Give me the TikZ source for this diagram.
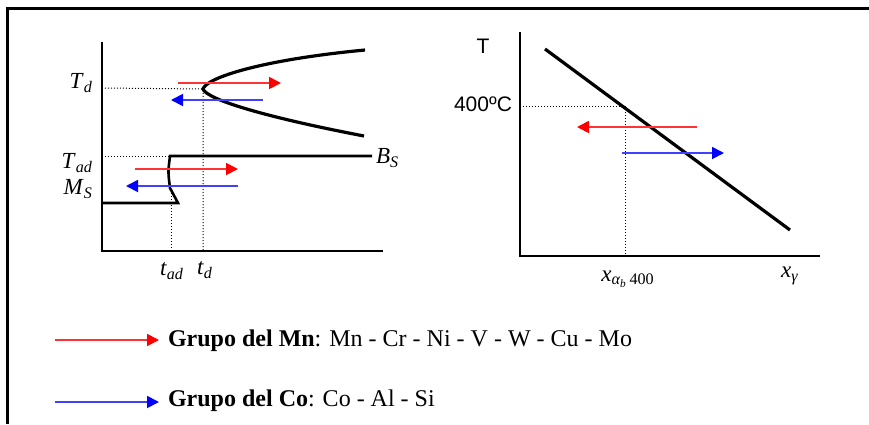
\documentclass[tikz,border=0pt]{standalone}
\usepackage{fontspec}
\setmainfont{Liberation Serif}
\newfontfamily\arialfont{Liberation Sans}
\usetikzlibrary{arrows.meta}
\newcommand\lbl[2]{\textit{#1}\textsubscript{\textit{#2}}}

\begin{document}
\begin{tikzpicture}[x=0.5pt,y=-0.5pt,>={Triangle[length=6pt,width=6pt]},
  axis/.style={line width=1.4pt},
  curve/.style={line width=1.6pt},
  guide/.style={densely dotted,line width=0.5pt},
  redarr/.style={->,draw=red!80!white,line width=0.9pt,arrows={-Triangle[length=6pt,width=6pt,fill=red,color=red]}},
  bluearr/.style={->,draw=blue!75!white,line width=0.9pt,arrows={-Triangle[length=6pt,width=6pt,fill=blue,color=blue]}},
  every node/.style={font=\fontsize{11.5}{13}\selectfont}]
  \useasboundingbox (0,0) rectangle (869,424);
  % frame
  \draw[line width=1.5pt] (7,424) -- (7,8) -- (869,8);
  % left diagram: axes
  \coordinate (o1) at (102,251);
  \draw[axis] (102,42) -- (o1) -- (383,251);
  % C-curve
  \coordinate (nose) at (203,89);
  \draw[curve] (365,50) .. controls (260,60) and (206,78) .. (nose)
    .. controls (207,100) and (270,118) .. (364,136);
  \draw[guide] (102,88) -- (nose) -- (203,251);
  \node[left] (Td) at (100,83) {\lbl{T}{d}};
  \node (td) at (205,270) {\lbl{t}{d}};
  \draw[redarr] (178,83) -- (281,83);
  \draw[bluearr] (263,100) -- (171,100);
  % bainite start and martensite start
  \draw[line width=1.3pt] (372,156) -- (170,156) .. controls (168,172) .. (170,188)
    -- (178,203) -- (102,203);
  \draw[guide] (102,156) -- (170,156);
  \draw[guide] (171,190) -- (171,251);
  \node[left] (Tad) at (100,163) {\lbl{T}{ad}};
  \node[left] (MS) at (100,189) {\lbl{M}{S}};
  \node[right] (BS) at (369,158) {\lbl{B}{S}};
  \node (tad) at (172,271) {\lbl{t}{ad}};
  \draw[redarr] (135,169) -- (238,169);
  \draw[bluearr] (238,186) -- (126,186);
  % right diagram: axes
  \coordinate (o2) at (520,256);
  \draw[axis] (520,32) -- (o2) -- (820,256);
  \draw[curve] (545,49) -- (790,230);
  \draw[guide] (520,106) -- (625,106) -- (625,256);
  \node[font=\arialfont\fontsize{10.5}{12}\selectfont] (T) at (483,46) {T};
  \node[left,font=\arialfont\fontsize{10.5}{12}\selectfont] (T400) at (519,104) {400ºC};
  \node (xab) at (628,279) {\textit{x}\textsubscript{\textit{α}\textsubscript{\textit{b}}\,400}};
  \node (xg) at (790,276) {\lbl{x}{γ}};
  \draw[redarr] (697,127) -- (577,127);
  \draw[bluearr] (622,153) -- (724,153);
  % legend
  \draw[redarr] (55,340) -- (159,340);
  \node[right,font=\fontsize{12}{14}\selectfont] (mn) at (161,341)
    {\textbf{Grupo del Mn}: Mn - Cr - Ni - V - W - Cu - Mo};
  \draw[bluearr] (55,402) -- (159,402);
  \node[right,font=\fontsize{12}{14}\selectfont] (co) at (161,401)
    {\textbf{Grupo del Co}: Co - Al - Si};
\end{tikzpicture}
\end{document}
